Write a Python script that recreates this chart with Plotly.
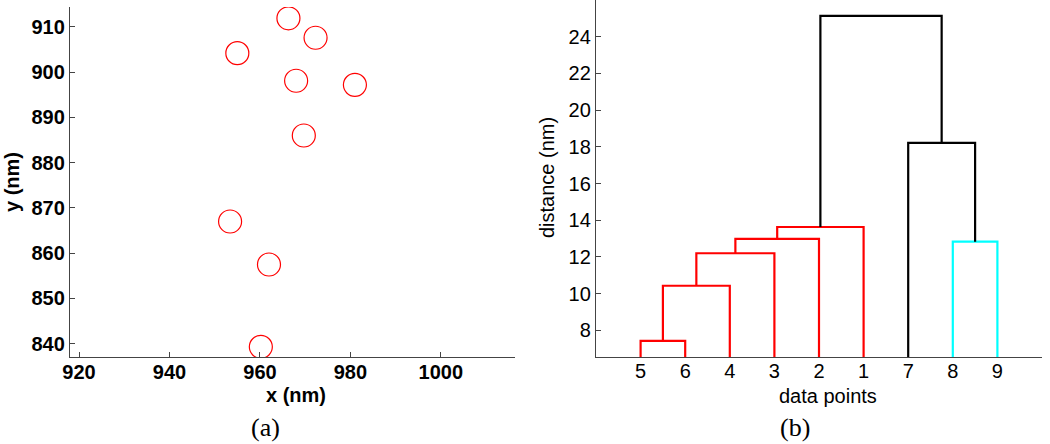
import plotly.graph_objects as go

# ---- panel (a): point coordinates (nm) ----
x_nm = [966.3, 972.3, 955.0, 968.0, 981.0, 969.7, 953.4, 962.0, 960.2]
y_nm = [911.9, 907.6, 904.2, 898.1, 897.2, 886.0, 867.0, 857.5, 839.3]
xa_ticks = [920, 940, 960, 980, 1000]
ya_ticks = [840, 850, 860, 870, 880, 890, 900, 910]

# ---- panel (b): dendrogram ----
leaf_order = ["5", "6", "4", "3", "2", "1", "7", "8", "9"]
merge_a = ["5", "C1", "C2", "C3", "C4", "8", "7", "C5"]
merge_b = ["6", "4", "3", "2", "1", "9", "C6", "C7"]
merge_name = ["C1", "C2", "C3", "C4", "C5", "C6", "C7", "C8"]
merge_height = [7.43, 10.43, 12.20, 12.98, 13.63, 12.83, 18.21, 25.13]
merge_color = ["#ff0000"] * 5 + ["#00ffff", "#000000", "#000000"]
yb_ticks = [8, 10, 12, 14, 16, 18, 20, 22, 24]

W, H = 1050, 444
def px(x):
    return x / W
def py(y):
    return 1 - y / H

fig = go.Figure()

fig.add_trace(go.Scatter(
    x=x_nm, y=y_nm, mode="markers", xaxis="x", yaxis="y",
    marker=dict(symbol="circle-open", size=23, color="#ff0000",
                line=dict(width=1.2, color="#ff0000")),
    showlegend=False, hoverinfo="x+y"))

pos = {lab: i + 1 for i, lab in enumerate(leaf_order)}
hgt = {lab: 0.0 for lab in leaf_order}
for a, b, h, c, n in zip(merge_a, merge_b, merge_height, merge_color, merge_name):
    xa_, xb_ = pos[a], pos[b]
    fig.add_trace(go.Scatter(
        x=[xa_, xa_, xb_, xb_], y=[hgt[a], h, h, hgt[b]],
        mode="lines", xaxis="x2", yaxis="y2",
        line=dict(color=c, width=2.2), showlegend=False))
    pos[n] = (xa_ + xb_) / 2
    hgt[n] = h

axcol = "#444444"
common = dict(showgrid=False, zeroline=False, showline=True, linecolor=axcol,
              linewidth=1.3, ticks="inside", ticklen=5, tickcolor=axcol, mirror=False,
              automargin=False)

fig.update_layout(
    width=W, height=H, margin=dict(l=0, r=0, t=0, b=0, pad=0, autoexpand=False),
    paper_bgcolor="white", plot_bgcolor="white",
    xaxis=dict(domain=[px(70), px(515)], range=[918.0, 1016.4], tickvals=xa_ticks,
               anchor="y", tickfont=dict(family="Liberation Sans", size=20, color="black", weight="bold"),
               ticklabelstandoff=-3, **common),
    yaxis=dict(domain=[py(357), py(7)], range=[837.06, 914.4], tickvals=ya_ticks,
               anchor="x", tickfont=dict(family="Liberation Sans", size=20, color="black", weight="bold"),
               **common),
    xaxis2=dict(domain=[px(596), px(1042)], range=[0, 10],
                tickvals=list(range(1, len(leaf_order) + 1)), ticktext=leaf_order,
                anchor="y2", tickfont=dict(family="Liberation Sans", size=20, color="black"),
                ticklabelstandoff=-4, **{**common, "ticks": ""}),
    yaxis2=dict(domain=[py(357.3), 1.0], range=[6.53, 26.0], tickvals=yb_ticks,
                anchor="x2", tickfont=dict(family="Liberation Sans", size=20, color="black"),
                **common),
)

ann = [
    dict(text="<b>x (nm)</b>", x=px(296), y=py(395), size=20, fam="Liberation Sans", ang=0),
    dict(text="<b>y (nm)</b>", x=px(12), y=py(182), size=20, fam="Liberation Sans", ang=-90),
    dict(text="(a)", x=px(265), y=py(427), size=26, fam="Liberation Serif", ang=0),
    dict(text="data points", x=px(828), y=py(396), size=20, fam="Liberation Sans", ang=0),
    dict(text="distance (nm)", x=px(547), y=py(178), size=20, fam="Liberation Sans", ang=-90),
    dict(text="(b)", x=px(795), y=py(427), size=26, fam="Liberation Serif", ang=0),
]
for a in ann:
    fig.add_annotation(text=a["text"], x=a["x"], y=a["y"], xref="paper", yref="paper",
                       xanchor="center", yanchor="middle", showarrow=False, textangle=a["ang"],
                       font=dict(family=a["fam"], size=a["size"], color="black"))

fig.write_html("out.html", config={"displayModeBar": False},
               post_script="document.body.style.margin='0';document.body.style.overflow='hidden';")
